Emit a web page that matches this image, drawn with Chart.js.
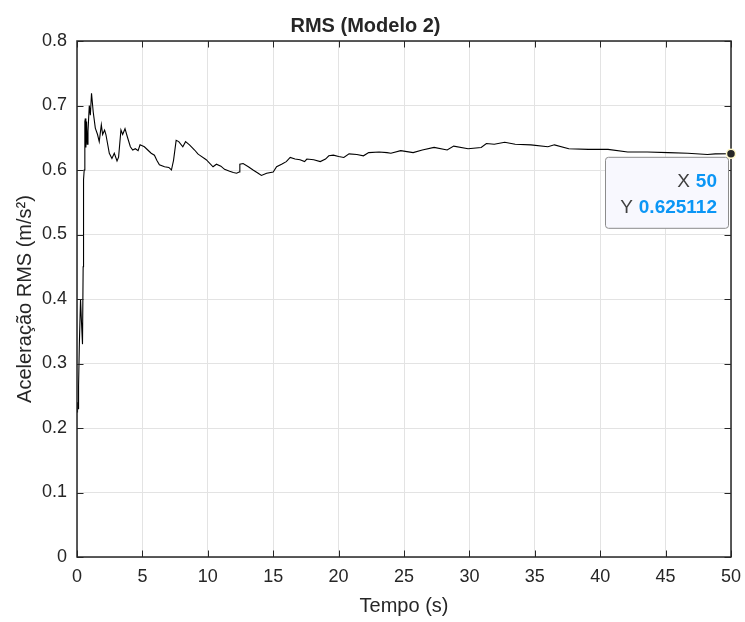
<!DOCTYPE html>
<html>
<head>
<meta charset="utf-8">
<title>RMS (Modelo 2)</title>
<script src="https://cdn.jsdelivr.net/npm/chart.js@4"></script>
<style>
  html, body { margin: 0; padding: 0; background: #fff; }
  #wrap { width: 745px; height: 622px; }
</style>
</head>
<body>
<div id="wrap"><canvas id="rmsChart" width="745" height="622"></canvas></div>
<script>
// Dados
const tempo = [0, 0.04, 0.08, 0.12, 0.18, 0.27, 0.33, 0.42, 0.47, 0.5, 0.55, 0.6, 0.64, 0.68, 0.73, 0.78, 0.84, 0.94, 1.02, 1.11,
    1.24, 1.4, 1.57, 1.7, 1.86, 1.96, 2.11, 2.21, 2.47, 2.67, 2.85, 3.06, 3.18, 3.36, 3.49, 3.67, 3.87, 4.08, 4.26, 4.46,
    4.67, 4.82, 5.15, 5.41, 5.67, 5.92, 6.1, 6.3, 6.69, 7.02, 7.22, 7.38, 7.58, 7.78, 8.09, 8.3, 8.6, 8.99, 9.24, 9.37,
    9.88, 10.4, 10.66, 11.0, 11.28, 11.67, 11.95, 12.2, 12.4, 12.45, 12.7, 13.1, 13.46, 13.85, 14.1, 14.5, 15.0, 15.26, 15.64, 16.0,
    16.3, 16.67, 17.05, 17.4, 17.57, 18.1, 18.6, 19.0, 19.25, 19.6, 20.0, 20.4, 20.8, 21.4, 21.9, 22.3, 23.1, 23.7, 24.0, 24.75,
    25.7, 26.4, 27.3, 28.3, 28.8, 29.9, 30.9, 31.3, 31.9, 32.7, 33.5, 34.7, 36.0, 36.5, 37.6, 39.1, 40.6, 42.1, 43.6, 45.2,
    46.7, 48.2, 48.8, 50];
const rms = [0.225, 0.24, 0.23, 0.265, 0.33, 0.40, 0.37, 0.33, 0.45, 0.585, 0.60, 0.675, 0.68, 0.635, 0.675, 0.64, 0.66, 0.70, 0.685, 0.719,
    0.69, 0.665, 0.655, 0.644, 0.67, 0.655, 0.662, 0.655, 0.626, 0.618, 0.626, 0.614, 0.62, 0.662, 0.655, 0.664, 0.65, 0.636, 0.631, 0.633,
    0.63, 0.639, 0.636, 0.631, 0.626, 0.623, 0.615, 0.608, 0.605, 0.604, 0.600, 0.615, 0.646, 0.644, 0.636, 0.644, 0.639, 0.631, 0.625, 0.623,
    0.616, 0.605, 0.609, 0.606, 0.601, 0.598, 0.596, 0.595, 0.597, 0.609, 0.61, 0.605, 0.60, 0.595, 0.5915, 0.595, 0.597, 0.605, 0.609, 0.613,
    0.6195, 0.617, 0.616, 0.613, 0.617, 0.616, 0.613, 0.617, 0.622, 0.623, 0.621, 0.6195, 0.625, 0.624, 0.622, 0.627, 0.628, 0.627, 0.626, 0.630,
    0.627, 0.631, 0.635, 0.631, 0.637, 0.633, 0.635, 0.641, 0.640, 0.643, 0.640, 0.639, 0.636, 0.639, 0.633, 0.632, 0.632, 0.628, 0.628, 0.627,
    0.626, 0.624, 0.625, 0.625112];

// Ponto marcado (datatip)
const tipX = 50;
const tipY = 0.625112;

const FONT = '"Liberation Sans", Arial, Helvetica, sans-serif';
const TEXT = '#262626';

// Moldura, ticks para dentro e datatip estilo MATLAB
const matlabPlugin = {
    id: 'matlab',
    afterDraw(chart) {
        const ctx = chart.ctx;
        const a = chart.chartArea;
        const xs = chart.scales.x;
        const ys = chart.scales.y;
        const len = 6.5;

        ctx.save();
        ctx.strokeStyle = TEXT;
        ctx.lineWidth = 1;
        ctx.beginPath();
        xs.ticks.forEach(t => {
            const px = Math.round(xs.getPixelForValue(t.value)) + 0.5;
            ctx.moveTo(px, a.bottom); ctx.lineTo(px, a.bottom - len);
            ctx.moveTo(px, a.top); ctx.lineTo(px, a.top + len);
        });
        ys.ticks.forEach(t => {
            const py = Math.round(ys.getPixelForValue(t.value)) + 0.5;
            ctx.moveTo(a.left, py); ctx.lineTo(a.left + len, py);
            ctx.moveTo(a.right, py); ctx.lineTo(a.right - len, py);
        });
        ctx.stroke();
        ctx.lineWidth = 1.5;
        ctx.strokeRect(a.left, a.top, a.right - a.left, a.bottom - a.top);

        // datatip
        const px = xs.getPixelForValue(tipX);
        const py = ys.getPixelForValue(tipY);
        const bx = px - 126, by = py + 3, bw = 123, bh = 71;
        ctx.fillStyle = '#f8f8fe';
        ctx.strokeStyle = '#8c8c8c';
        ctx.lineWidth = 1;
        ctx.beginPath();
        ctx.roundRect(bx + 0.5, by + 0.5, bw, bh, 3);
        ctx.fill();
        ctx.stroke();

        const rows = [['X', String(tipX)], ['Y', String(tipY)]];
        const right = bx + bw - 11;
        rows.forEach((r, i) => {
            const base = by + 30 + i * 26;
            ctx.font = 'bold 19px ' + FONT;
            ctx.fillStyle = '#0b96f5';
            ctx.textAlign = 'right';
            ctx.textBaseline = 'alphabetic';
            ctx.fillText(r[1], right, base);
            const w = ctx.measureText(r[1]).width;
            ctx.font = '19px ' + FONT;
            ctx.fillStyle = '#404040';
            ctx.fillText(r[0], right - w - 6, base);
        });

        ctx.beginPath();
        ctx.arc(px, py, 4.5, 0, Math.PI * 2);
        ctx.fillStyle = '#262626';
        ctx.fill();
        ctx.lineWidth = 1.5;
        ctx.strokeStyle = '#fff8c8';
        ctx.stroke();
        ctx.restore();
    }
};

const chart = new Chart(document.getElementById('rmsChart'), {
    type: 'line',
    data: {
        datasets: [{
            data: tempo.map((t, i) => ({ x: t, y: rms[i] })),
            borderColor: '#000000',
            borderWidth: 1.1,
            pointRadius: 0,
            tension: 0,
            fill: false
        }]
    },
    options: {
        responsive: false,
        animation: false,
        events: [],
        layout: { padding: { left: 0, right: 14, top: 0, bottom: 0 } },
        plugins: {
            legend: { display: false },
            tooltip: { enabled: false },
            title: {
                display: true,
                text: 'RMS (Modelo 2)',
                color: TEXT,
                font: { family: FONT, size: 20, weight: 'bold' },
                padding: { top: 14, bottom: 3 }
            }
        },
        scales: {
            x: {
                type: 'linear',
                min: 0,
                max: 50,
                afterFit: s => { s.height = 65; s.paddingLeft = 0; s.paddingRight = 0; },
                ticks: { stepSize: 5, color: TEXT, padding: 9, font: { family: FONT, size: 18 }, maxRotation: 0 },
                grid: { color: '#e3e3e3', drawTicks: false },
                border: { display: false },
                title: {
                    display: true,
                    text: 'Tempo (s)',
                    color: TEXT,
                    font: { family: FONT, size: 20 },
                    padding: { top: 0, bottom: 4 }
                }
            },
            y: {
                min: 0,
                max: 0.8,
                afterFit: s => { s.width = 77; },
                ticks: { stepSize: 0.1, color: TEXT, padding: 10, font: { family: FONT, size: 18 } },
                grid: { color: '#e3e3e3', drawTicks: false },
                border: { display: false },
                title: {
                    display: true,
                    text: 'Aceleração RMS (m/s²)',
                    color: TEXT,
                    font: { family: FONT, size: 20 },
                    padding: { top: 13, bottom: 0 }
                }
            }
        }
    },
    plugins: [matlabPlugin]
});
</script>
</body>
</html>
